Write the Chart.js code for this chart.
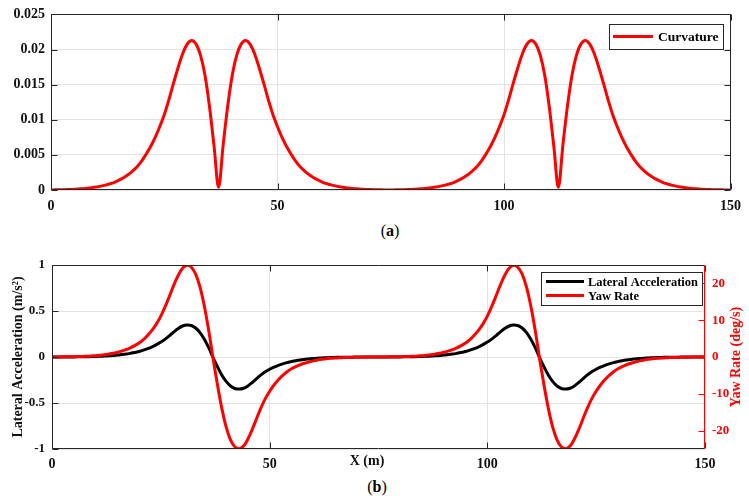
<!DOCTYPE html>
<html>
<head>
<meta charset="utf-8">
<script src="https://cdn.jsdelivr.net/npm/chart.js@4.4.0/dist/chart.umd.min.js"></script>
<style>
body{margin:0;background:#fff;width:749px;height:504px;position:relative;overflow:hidden;font-family:"Liberation Serif","Times New Roman",serif}
#c1{position:absolute;left:0;top:0}
#c2{position:absolute;left:0;top:250px}
.cap{position:absolute;font-size:16px;color:#000;width:60px;text-align:center}
</style>
</head>
<body>
<canvas id="c1" width="749" height="215"></canvas>
<canvas id="c2" width="749" height="225"></canvas>
<div class="cap" style="left:360px;top:222px">(<b>a</b>)</div>
<div class="cap" style="left:347px;top:478px">(<b>b</b>)</div>
<script>
// distance along the road (m)
const xs = [0,1,2,3,4,5,6,7,8,9,10,11,12,13,14,15,16,17,18,19,20,21,22,23,24,25,26,27,28,29,30,
  31,32,33,34,35,36,37,38,39,40,41,42,43,44,45,46,47,48,49,50,51,52,53,54,55,56,57,58,59,60,
  61,62,63,64,65,66,67,68,69,70,71,72,73,74,75,76,77,78,79,80,81,82,83,84,85,86,87,88,89,90,
  91,92,93,94,95,96,97,98,99,100,101,102,103,104,105,106,107,108,109,110,111,112,113,114,115,116,117,118,119,120,
  121,122,123,124,125,126,127,128,129,130,131,132,133,134,135,136,137,138,139,140,141,142,143,144,145,146,147,148,149,150];

// (a) curvature (1/m)
const curvature = [0.00001,0.00002,0.00003,0.00005,0.00007,0.0001,0.00014,0.00019,0.00025,0.00033,
  0.00043,0.00055,0.0007,0.00088,0.0011,0.0014,0.00175,0.00218,0.0027,0.0033,
  0.0041,0.0051,0.0062,0.0075,0.0090,0.0107,0.0128,0.0151,0.0173,0.0193,
  0.0207,0.0213,0.0208,0.0192,0.0163,0.0118,0.0062,0.0004,0.0064,0.0119,
  0.0163,0.0192,0.0208,0.0213,0.0207,0.0193,0.0173,0.0151,0.0128,0.0107,
  0.0090,0.0075,0.0062,0.0051,0.0041,0.0033,0.0027,0.00218,0.00175,0.0014,
  0.0011,0.00088,0.0007,0.00055,0.00043,0.00033,0.00025,0.00019,0.00014,0.0001,
  0.00007,0.00005,0.00003,0.00002,0.00001,0,
  0.00002,0.00003,0.00005,0.00007,0.0001,0.00014,0.00019,0.00025,0.00033,
  0.00043,0.00055,0.0007,0.00088,0.0011,0.0014,0.00175,0.00218,0.0027,0.0033,
  0.0041,0.0051,0.0062,0.0075,0.0090,0.0107,0.0128,0.0151,0.0173,0.0193,
  0.0207,0.0213,0.0208,0.0192,0.0163,0.0118,0.0062,0.0004,0.0064,0.0119,
  0.0163,0.0192,0.0208,0.0213,0.0207,0.0193,0.0173,0.0151,0.0128,0.0107,
  0.0090,0.0075,0.0062,0.0051,0.0041,0.0033,0.0027,0.00218,0.00175,0.0014,
  0.0011,0.00088,0.0007,0.00055,0.00043,0.00033,0.00025,0.00019,0.00014,0.0001,
  0.00007,0.00005,0.00003,0.00002,0.00001,0];

// (b) lateral acceleration (m/s^2)
const latAcc = [0.0002,0.0003,0.0005,0.0007,0.0009,0.0013,0.0018,0.0025,0.0034,0.0046,
  0.006,0.0078,0.0098,0.0126,0.016,0.021,0.026,0.032,0.04,0.049,
  0.06,0.074,0.091,0.111,0.135,0.162,0.194,0.233,0.273,0.31,
  0.337,0.349,0.342,0.315,0.265,0.193,0.101,-0.006,-0.105,-0.195,
  -0.265,-0.315,-0.342,-0.349,-0.34,-0.314,-0.277,-0.235,-0.195,-0.161,
  -0.133,-0.11,-0.091,-0.075,-0.061,-0.05,-0.04,-0.032,-0.026,-0.021,
  -0.016,-0.0126,-0.0098,-0.0078,-0.006,-0.0046,-0.0035,-0.0027,-0.002,-0.0015,
  -0.0011,-0.0008,-0.0005,-0.0003,-0.0002,0,
  0.0003,0.0005,0.0007,0.0009,0.0013,0.0018,0.0025,0.0034,0.0046,
  0.006,0.0078,0.0098,0.0126,0.016,0.021,0.026,0.032,0.04,0.049,
  0.06,0.074,0.091,0.111,0.135,0.162,0.194,0.233,0.273,0.31,
  0.337,0.349,0.342,0.315,0.265,0.193,0.101,-0.006,-0.105,-0.195,
  -0.265,-0.315,-0.342,-0.349,-0.34,-0.314,-0.277,-0.235,-0.195,-0.161,
  -0.133,-0.11,-0.091,-0.075,-0.061,-0.05,-0.04,-0.032,-0.026,-0.021,
  -0.016,-0.0126,-0.0098,-0.0078,-0.006,-0.0046,-0.0035,-0.0027,-0.002,-0.0015,
  -0.0011,-0.0008,-0.0005,-0.0003,-0.0002,0];

// (b) yaw rate (deg/s)
const yawRate = [0.01,0.02,0.03,0.04,0.06,0.08,0.11,0.15,0.2,0.27,
  0.36,0.47,0.6,0.78,1.0,1.3,1.6,2.0,2.5,3.1,
  3.8,4.7,5.9,7.3,9.0,11.1,13.7,16.6,19.6,22.2,
  24.1,24.9,24.4,22.5,19.0,13.8,7.2,-0.4,-7.5,-13.9,
  -19.0,-22.5,-24.4,-24.9,-24.2,-22.3,-19.7,-16.7,-13.8,-11.3,
  -9.3,-7.6,-6.2,-5.0,-4.0,-3.2,-2.6,-2.1,-1.7,-1.35,
  -1.05,-0.8,-0.62,-0.48,-0.37,-0.28,-0.21,-0.16,-0.12,-0.09,
  -0.07,-0.05,-0.03,-0.02,-0.01,0,
  0.02,0.03,0.04,0.06,0.08,0.11,0.15,0.2,0.27,
  0.36,0.47,0.6,0.78,1.0,1.3,1.6,2.0,2.5,3.1,
  3.8,4.7,5.9,7.3,9.0,11.1,13.7,16.6,19.6,22.2,
  24.1,24.9,24.4,22.5,19.0,13.8,7.2,-0.4,-7.5,-13.9,
  -19.0,-22.5,-24.4,-24.9,-24.2,-22.3,-19.7,-16.7,-13.8,-11.3,
  -9.3,-7.6,-6.2,-5.0,-4.0,-3.2,-2.6,-2.1,-1.7,-1.35,
  -1.05,-0.8,-0.62,-0.48,-0.37,-0.28,-0.21,-0.16,-0.12,-0.09,
  -0.07,-0.05,-0.03,-0.02,-0.01,0];

// tick values
const xTicks = [0,50,100,150];
const curvTicks = [0,0.005,0.01,0.015,0.02,0.025];
const accTicks = [-1,-0.5,0,0.5,1];
const yawTicks = [-20,-10,0,10,20];

const FONT = '"Liberation Serif","Times New Roman",serif';
const AXIS = '#262626';
const RED = '#ff0000';
const GRID = '#e3e3e3';

function pts(ys){ return xs.map((x,i)=>({x:x, y:ys[i]})); }
function fixTicks(list){ return s => { s.ticks = list.map(v=>({value:v})); }; }

// box round the plot with inward tick marks
const framePlugin = {
  id:'frame',
  afterDatasetsDraw(chart){
    const {ctx, chartArea:a, scales} = chart;
    const L = 6;
    const l = Math.round(a.left)+0.5, r = Math.round(a.right)-0.5;
    const t = Math.round(a.top)+0.5, b = Math.round(a.bottom)-0.5;
    ctx.save();
    ctx.lineWidth = 1;
    function seg(x1,y1,x2,y2,c){ ctx.strokeStyle=c; ctx.beginPath(); ctx.moveTo(x1,y1); ctx.lineTo(x2,y2); ctx.stroke(); }
    scales.x.ticks.forEach(tk=>{
      const p = Math.round(scales.x.getPixelForValue(tk.value))+0.5;
      seg(p,b,p,b-L,AXIS); seg(p,t,p,t+L,AXIS);
    });
    scales.y.ticks.forEach(tk=>{
      const p = Math.round(scales.y.getPixelForValue(tk.value))+0.5;
      seg(l,p,l+L,p,AXIS);
      if(!scales.y1) seg(r,p,r-L,p,AXIS);
    });
    if(scales.y1){
      scales.y1.ticks.forEach(tk=>{
        const p = Math.round(scales.y1.getPixelForValue(tk.value))+0.5;
        seg(r,p,r-L,p,RED);
      });
    }
    seg(l,t,r,t,AXIS); seg(l,b,r,b,AXIS); seg(l,t,l,b,AXIS);
    seg(r,t,r,b,scales.y1 ? RED : AXIS);
    ctx.restore();
  }
};

// legend in a box inside the plot, top right
const boxLegend = {
  id:'boxLegend',
  afterDraw(chart, args, o){
    if(!o.size) return;
    const {ctx, chartArea:a} = chart;
    const items = chart.data.datasets;
    ctx.save();
    ctx.font = 'bold '+o.size+'px '+FONT;
    const tw = Math.max(...items.map(d=>ctx.measureText(d.label).width));
    const w = Math.round(o.padL + o.lineLen + o.gap + tw + o.padR);
    const h = Math.round(o.padV*2 + items.length*o.row);
    const x0 = Math.round(a.right - o.right - w), y0 = Math.round(a.top + o.top);
    ctx.fillStyle = '#fff';
    ctx.fillRect(x0, y0, w, h);
    ctx.strokeStyle = AXIS; ctx.lineWidth = 1;
    ctx.strokeRect(x0+0.5, y0+0.5, w, h);
    items.forEach((d,i)=>{
      const cy = y0 + o.padV + o.row*(i+0.5);
      ctx.strokeStyle = d.borderColor; ctx.lineWidth = 3;
      ctx.beginPath(); ctx.moveTo(x0+o.padL, cy); ctx.lineTo(x0+o.padL+o.lineLen, cy); ctx.stroke();
      ctx.fillStyle = '#000'; ctx.textBaseline = 'middle'; ctx.textAlign = 'left';
      ctx.fillText(d.label, x0+o.padL+o.lineLen+o.gap, cy+1);
    });
    ctx.restore();
  }
};

// axis titles placed like the original figure
const titles = {
  id:'titles',
  afterDraw(chart, args, o){
    if(!o.list) return;
    const {ctx, chartArea:a} = chart;
    ctx.save();
    o.list.forEach(t=>{
      ctx.font = 'bold '+t.size+'px '+FONT;
      ctx.fillStyle = t.color;
      ctx.textAlign = 'center'; ctx.textBaseline = 'middle';
      const x = t.x, y = t.y==null ? (a.top+a.bottom)/2 : t.y;
      ctx.translate(x, y);
      ctx.rotate(t.rot||0);
      ctx.fillText(t.text, 0, 0);
      ctx.setTransform(1,0,0,1,0,0);
    });
    ctx.restore();
  }
};

Chart.register(framePlugin, boxLegend, titles);

const tickFont = {family:FONT, size:14, weight:'bold'};
const tickFontB = {family:FONT, size:13, weight:'bold'};

// (a)
new Chart(document.getElementById('c1'), {
  type:'line',
  data:{datasets:[{label:'Curvature', data:pts(curvature), borderColor:RED, borderWidth:3,
    pointRadius:0, tension:0.35, fill:false}]},
  options:{
    responsive:false, animation:false,
    layout:{padding:{top:13, right:18, left:0, bottom:0}},
    plugins:{
      legend:{display:false}, tooltip:{enabled:false},
      boxLegend:{size:13.5, padL:4, lineLen:40, gap:5, padR:5, padV:5.5, row:14, right:8, top:10}
    },
    scales:{
      x:{type:'linear', min:0, max:150, afterBuildTicks:fixTicks(xTicks),
        ticks:{color:'#111', font:tickFont, padding:8, maxRotation:0},
        grid:{color:GRID, drawTicks:false}, border:{display:false},
        afterFit(s){ s.height = 25; }},
      y:{min:0, max:0.025, afterBuildTicks:fixTicks(curvTicks),
        ticks:{color:'#111', font:tickFont, padding:6, callback:v=>String(Number(v.toFixed(4)))},
        grid:{color:GRID, drawTicks:false}, border:{display:false},
        afterFit(s){ s.width = 51; }}
    }
  }
});

// (b)
new Chart(document.getElementById('c2'), {
  type:'line',
  data:{datasets:[
    {label:'Lateral Acceleration', data:pts(latAcc), yAxisID:'y', borderColor:'#000', borderWidth:3,
      pointRadius:0, tension:0.35, fill:false, order:1},
    {label:'Yaw Rate', data:pts(yawRate), yAxisID:'y1', borderColor:RED, borderWidth:3,
      pointRadius:0, tension:0.35, fill:false, order:0}
  ]},
  options:{
    responsive:false, animation:false,
    layout:{padding:{top:15, right:0, left:0, bottom:0}},
    plugins:{
      legend:{display:false}, tooltip:{enabled:false},
      boxLegend:{size:12.5, padL:5, lineLen:38, gap:4, padR:4, padV:2.5, row:14, right:3, top:7},
      titles:{list:[
        {text:'Lateral Acceleration (m/s²)', x:18, size:14, color:'#111', rot:-Math.PI/2},
        {text:'Yaw Rate (deg/s)', x:736, size:14, color:RED, rot:-Math.PI/2},
        {text:'X (m)', x:367, y:211, size:14, color:'#111'}
      ]}
    },
    scales:{
      x:{type:'linear', min:0, max:150, afterBuildTicks:fixTicks(xTicks),
        ticks:{color:'#111', font:tickFont, padding:7, maxRotation:0},
        grid:{color:GRID, drawTicks:false}, border:{display:false},
        afterFit(s){ s.height = 26; }},
      y:{position:'left', min:-1, max:1, afterBuildTicks:fixTicks(accTicks),
        ticks:{color:'#111', font:tickFontB, padding:7, callback:v=>String(v)},
        grid:{color:GRID, drawTicks:false}, border:{display:false},
        afterFit(s){ s.width = 52; }},
      y1:{position:'right', min:-25, max:25, afterBuildTicks:fixTicks(yawTicks),
        ticks:{color:RED, font:tickFontB, padding:7, callback:v=>String(v)},
        grid:{display:false, drawTicks:false}, border:{display:false},
        afterFit(s){ s.width = 44; }}
    }
  }
});
</script>
</body>
</html>
